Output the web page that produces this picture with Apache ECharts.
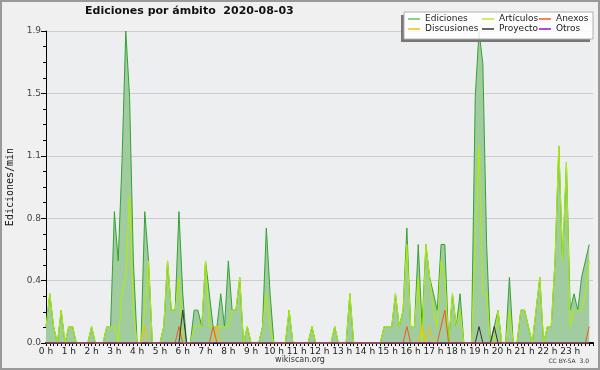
<!DOCTYPE html>
<html>
<head>
<meta charset="utf-8">
<script src="https://cdn.jsdelivr.net/npm/echarts@6/dist/echarts.min.js"></script>
<style>
  html, body { margin: 0; padding: 0; background: #f0f0f0; }
  #chart { width: 600px; height: 370px; }
</style>
</head>
<body>
<div id="chart"></div>
<script>
// ediciones/min, one value every 10 min (6 per hour, 0 h .. 23 h 50)
const ediciones = [
    0.1, 0.3, 0.1, 0, 0.2, 0,      // 0 h
    0.1, 0.1, 0, 0, 0, 0,          // 1 h
    0.1, 0, 0, 0, 0.1, 0.1,        // 2 h
    0.8, 0.5, 1.1, 1.9, 1.5, 0.5,  // 3 h
    0, 0, 0.8, 0.5, 0, 0,          // 4 h
    0, 0.1, 0.5, 0.2, 0.2, 0.8,    // 5 h
    0.3, 0, 0, 0.2, 0.2, 0.1,      // 6 h
    0.5, 0.3, 0.1, 0.1, 0.3, 0.1,  // 7 h
    0.5, 0.2, 0.2, 0.4, 0, 0.1,    // 8 h
    0, 0, 0, 0.1, 0.7, 0.3,        // 9 h
    0, 0, 0, 0, 0.2, 0,            // 10 h
    0, 0, 0, 0, 0.1, 0,            // 11 h
    0, 0, 0, 0, 0.1, 0,            // 12 h
    0, 0, 0.3, 0, 0, 0,            // 13 h
    0, 0, 0, 0, 0, 0.1,            // 14 h
    0.1, 0.1, 0.3, 0.1, 0.2, 0.7,  // 15 h
    0.1, 0.1, 0.6, 0.1, 0.6, 0.4,  // 16 h
    0.3, 0.2, 0.6, 0.6, 0, 0.3,    // 17 h
    0.1, 0.3, 0, 0, 0, 1.5,        // 18 h
    1.9, 1.7, 0.6, 0, 0.1, 0.2,    // 19 h
    0, 0, 0.4, 0, 0, 0.2,          // 20 h
    0.2, 0.1, 0, 0.2, 0.4, 0,      // 21 h
    0.1, 0.1, 0.5, 1.2, 0.5, 1.1,  // 22 h
    0.2, 0.3, 0.2, 0.4, 0.5, 0.6,  // 23 h
]

const articulos = [
    0.1, 0.3, 0.1, 0, 0.2, 0,
    0.1, 0.1, 0, 0, 0, 0,
    0.1, 0, 0, 0, 0.1, 0.1,
    0.1, 0, 0.3, 0.4, 0.9, 0.2,
    0, 0, 0.2, 0.5, 0, 0,
    0, 0.1, 0.5, 0.2, 0.2, 0.4,
    0, 0, 0, 0.1, 0.1, 0.1,
    0.5, 0.1, 0.1, 0.1, 0.1, 0.1,
    0.1, 0.2, 0.2, 0.4, 0, 0.1,
    0, 0, 0, 0.1, 0.3, 0.1,
    0, 0, 0, 0, 0.2, 0,
    0, 0, 0, 0, 0.1, 0,
    0, 0, 0, 0, 0.1, 0,
    0, 0, 0.3, 0, 0, 0,
    0, 0, 0, 0, 0, 0.1,
    0.1, 0.1, 0.3, 0.1, 0.2, 0.6,
    0.1, 0.1, 0.4, 0, 0.6, 0.4,
    0.2, 0.1, 0.5, 0.4, 0, 0.3,
    0.1, 0.2, 0, 0, 0, 0.6,
    1.2, 0.3, 0.3, 0, 0, 0.2,
    0, 0, 0.2, 0, 0, 0.2,
    0.2, 0.1, 0, 0.2, 0.4, 0,
    0.1, 0.1, 0.5, 1.2, 0.5, 1.1,
    0.1, 0.2, 0.2, 0.2, 0.3, 0.5,
]

const anexos = [
    0, 0, 0, 0, 0, 0,
    0, 0, 0, 0, 0, 0,
    0, 0, 0, 0, 0, 0,
    0, 0, 0, 0, 0, 0,
    0, 0, 0, 0, 0, 0,
    0, 0, 0, 0, 0, 0.1,
    0, 0, 0, 0, 0, 0,
    0, 0, 0.1, 0, 0, 0,
    0, 0, 0, 0, 0, 0,
    0, 0, 0, 0, 0, 0,
    0, 0, 0, 0, 0, 0,
    0, 0, 0, 0, 0, 0,
    0, 0, 0, 0, 0, 0,
    0, 0, 0, 0, 0, 0,
    0, 0, 0, 0, 0, 0,
    0, 0, 0, 0, 0, 0.1,
    0, 0, 0, 0, 0, 0,
    0, 0, 0.1, 0.2, 0, 0,
    0, 0, 0, 0, 0, 0,
    0, 0, 0, 0, 0, 0,
    0, 0, 0, 0, 0, 0,
    0, 0, 0, 0, 0, 0,
    0, 0, 0, 0, 0, 0,
    0, 0, 0, 0, 0, 0.1,
]

const discusiones = [
    0, 0, 0, 0, 0, 0,
    0, 0, 0, 0, 0, 0,
    0, 0, 0, 0, 0, 0,
    0, 0, 0, 0, 0, 0,
    0, 0, 0.1, 0, 0, 0,
    0, 0, 0, 0, 0, 0,
    0, 0, 0, 0, 0, 0,
    0, 0, 0, 0.1, 0, 0,
    0, 0, 0, 0, 0, 0,
    0, 0, 0, 0, 0, 0,
    0, 0, 0, 0, 0, 0,
    0, 0, 0, 0, 0, 0,
    0, 0, 0, 0, 0, 0,
    0, 0, 0, 0, 0, 0,
    0, 0, 0, 0, 0, 0,
    0, 0, 0, 0, 0, 0,
    0, 0, 0, 0.1, 0, 0.1,
    0, 0, 0, 0, 0, 0,
    0, 0, 0, 0, 0, 0,
    0, 0, 0, 0, 0, 0,
    0, 0, 0, 0, 0, 0,
    0, 0, 0, 0, 0, 0,
    0, 0, 0, 0, 0, 0,
    0, 0, 0, 0, 0, 0,
]

const proyecto = [
    0, 0, 0, 0, 0, 0,
    0, 0, 0, 0, 0, 0,
    0, 0, 0, 0, 0, 0,
    0, 0, 0, 0, 0, 0,
    0, 0, 0, 0, 0, 0,
    0, 0, 0, 0, 0, 0,
    0.2, 0, 0, 0, 0, 0,
    0, 0, 0, 0, 0, 0,
    0, 0, 0, 0, 0, 0,
    0, 0, 0, 0, 0, 0,
    0, 0, 0, 0, 0, 0,
    0, 0, 0, 0, 0, 0,
    0, 0, 0, 0, 0, 0,
    0, 0, 0, 0, 0, 0,
    0, 0, 0, 0, 0, 0,
    0, 0, 0, 0, 0, 0,
    0, 0, 0, 0, 0, 0,
    0, 0, 0, 0, 0, 0,
    0, 0, 0, 0, 0, 0,
    0.1, 0, 0, 0, 0.1, 0,
    0, 0, 0, 0, 0, 0,
    0, 0, 0, 0, 0, 0,
    0, 0, 0, 0, 0, 0,
    0, 0, 0, 0, 0, 0,
]

const otros = new Array(144).fill(0)

// y ticks: 5 equal steps up to the max, labels rounded to one decimal
const yMax = 1.9
const yStep = 0.38

const toPoints = (arr) => arr.map((v, i) => [i / 6, v])

const lineSeries = (name, data, color, extra) => Object.assign({
    name,
    type: 'line',
    data: toPoints(data),
    showSymbol: false,
    symbol: 'none',
    silent: true,
    lineStyle: { width: 1, color },
    itemStyle: { color },
}, extra || {})

const legendBase = {
    orient: 'vertical',
    top: 14,
    padding: 0,
    itemGap: 0,
    itemWidth: 12,
    itemHeight: 2,
    icon: 'rect',
    selectedMode: false,
    z: 10,
    textStyle: { fontFamily: 'DejaVu Sans', fontSize: 9, color: '#222', lineHeight: 10, padding: [0, 0, 0, 0] },
}

const chart = echarts.init(document.getElementById('chart'), null, { renderer: 'canvas' })

chart.setOption({
    backgroundColor: '#f0f0f0',
    animation: false,
    textStyle: { fontFamily: 'DejaVu Sans' },
    title: [
        {
            text: 'Ediciones por ámbito  2020-08-03',
            left: 85,
            top: 6,
            padding: 0,
            textStyle: { fontFamily: 'DejaVu Sans', fontSize: 11, fontWeight: 'bold', color: '#111' },
        },
        {
            text: 'wikiscan.org',
            left: 'center',
            top: 356,
            padding: 0,
            textStyle: { fontFamily: 'DejaVu Sans', fontSize: 8, fontWeight: 'normal', color: '#333' },
        },
        {
            text: 'CC BY-SA  3.0',
            right: 11,
            top: 358,
            padding: 0,
            textStyle: { fontFamily: 'DejaVu Sans', fontSize: 6, fontWeight: 'normal', color: '#333' },
        },
    ],
    graphic: [
        { type: 'rect', shape: { x: 1, y: 1, width: 598, height: 368 }, style: { fill: 'none', stroke: '#9a9a9a', lineWidth: 2 }, z: 0 },
        { type: 'rect', shape: { x: 401, y: 15, width: 3, height: 27 }, style: { fill: '#777' }, z: 8 },
        { type: 'rect', shape: { x: 401, y: 39, width: 189, height: 3 }, style: { fill: '#777' }, z: 8 },
        { type: 'rect', shape: { x: 404, y: 12, width: 189, height: 27 }, style: { fill: 'rgba(255,255,255,0.86)', stroke: '#b0b0b0', lineWidth: 1 }, z: 8 },
    ],
    legend: [
        Object.assign({}, legendBase, {
            left: 408,
            data: [
                { name: 'Ediciones', itemStyle: { color: '#8fd08f' } },
                { name: 'Discusiones', itemStyle: { color: '#f5d050' } },
            ],
        }),
        Object.assign({}, legendBase, {
            left: 482,
            data: [
                { name: 'Artículos', itemStyle: { color: '#cdee5e' } },
                { name: 'Proyecto', itemStyle: { color: '#666666' } },
            ],
        }),
        Object.assign({}, legendBase, {
            left: 539,
            data: [
                { name: 'Anexos', itemStyle: { color: '#f0845a' } },
                { name: 'Otros', itemStyle: { color: '#a050e8' } },
            ],
        }),
    ],
    grid: {
        left: 46,
        right: 7,
        top: 31,
        bottom: 27,
        containLabel: false,
        outerBoundsMode: 'none',
        show: true,
        backgroundColor: '#edeef0',
        borderWidth: 0,
    },
    xAxis: {
        type: 'value',
        min: 0,
        max: 24,
        interval: 1,
        z: 3,
        axisLine: { show: true, lineStyle: { color: '#000', width: 2 } },
        axisTick: { show: true, length: 3, lineStyle: { color: '#000' } },
        minorTick: { show: true, splitNumber: 6, length: 3, lineStyle: { color: '#000' } },
        splitLine: { show: false },
        axisLabel: {
            margin: 4,
            fontSize: 9,
            color: '#222',
            formatter: (v) => (v === 24 ? '' : `${v} h`),
        },
    },
    yAxis: {
        type: 'value',
        min: 0,
        max: yMax,
        interval: yStep,
        name: 'Ediciones/min',
        nameLocation: 'middle',
        nameGap: 30,
        nameRotate: 90,
        nameTextStyle: { fontFamily: 'DejaVu Sans Mono', fontSize: 10, color: '#111' },
        axisLine: { show: true, lineStyle: { color: '#000', width: 1 } },
        axisTick: { show: true, length: 5, lineStyle: { color: '#000' } },
        minorTick: { show: true, splitNumber: 4, length: 3, lineStyle: { color: '#000' } },
        splitLine: { show: true, lineStyle: { color: '#cccccc', width: 1 } },
        axisLabel: {
            margin: 5,
            fontSize: 9,
            color: '#444',
            formatter: (v) => v.toFixed(1),
        },
    },
    series: [
        lineSeries('Ediciones', ediciones, '#35a235', { areaStyle: { color: '#a0cc9f', opacity: 1 } }),
        lineSeries('Artículos', articulos, '#b2ee00'),
        lineSeries('Discusiones', discusiones, '#f2c200'),
        lineSeries('Anexos', anexos, '#ee5a1a'),
        lineSeries('Proyecto', proyecto, '#333333'),
        lineSeries('Otros', otros, '#9a3fd8'),
    ],
})
</script>
</body>
</html>
